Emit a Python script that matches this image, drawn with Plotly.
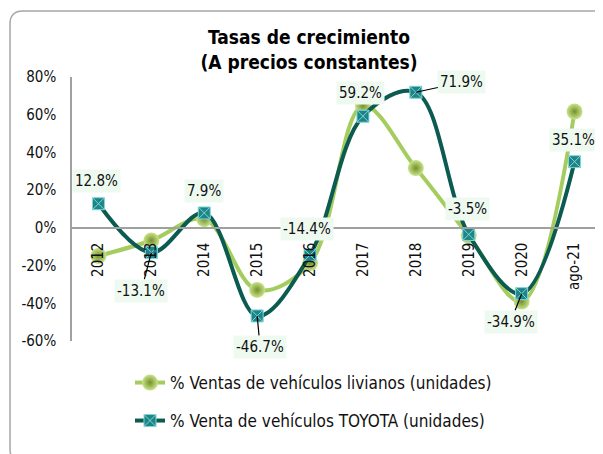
import plotly.graph_objects as go

categories = ["2012", "2013", "2014", "2015", "2016", "2017", "2018", "2019", "2020", "ago-21"]
livianos = [-14.9, -6.7, 4.6, -32.9, -18.7, 64.7, 31.7, -4.2, -39.1, 61.7]
toyota = [12.8, -13.1, 7.9, -46.7, -14.4, 59.2, 71.9, -3.5, -34.9, 35.1]
toyota_labels = ["12.8%", "-13.1%", "7.9%", "-46.7%", "-14.4%", "59.2%", "71.9%", "-3.5%", "-34.9%", "35.1%"]
y_ticks = [-60, -40, -20, 0, 20, 40, 60, 80]
y_tick_labels = ["-60%", "-40%", "-20%", "0%", "20%", "40%", "60%", "80%"]

FONT = "DejaVu Sans Condensed, DejaVu Sans, sans-serif"
# page body has an 8px margin, so the figure is sized to fit the window
W, H = 595, 446
L, R, T, B = 64, 2, 69, 113
pw, ph = W - L - R, H - T - B

# label placement (pixel offsets from point): (ax, ay, leader)
label_pos = [(-2, -23, False), (-10, 38, True), (0, -22, False), (3, 31, True), (-3, -26, False),
             (-2, -23, False), (46, -10, True), (-1, -25, False), (-11, 28, True), (-1, -22, False)]

fig = go.Figure()
fig.add_trace(go.Scatter(
    x=categories, y=livianos, mode="lines+markers",
    name="% Ventas de vehículos livianos (unidades)",
    line=dict(color="#A4CC5E", width=4, shape="spline", smoothing=1),
    marker=dict(size=16, color="#C9E58A", gradient=dict(type="radial", color="#758F2C"),
                line=dict(width=0)),
    legend="legend",
))
fig.add_trace(go.Scatter(
    x=categories, y=toyota, mode="lines+markers",
    name="% Venta de vehículos TOYOTA (unidades)",
    line=dict(color="#0B5B50", width=4, shape="spline", smoothing=1),
    marker=dict(size=12, symbol="square-x", color="#1E8486", line=dict(width=1, color="#7ED6DA")),
    legend="legend2",
))

for i, (v, txt, (ax, ay, leader)) in enumerate(zip(toyota, toyota_labels, label_pos)):
    if leader:
        fig.add_annotation(x=i, y=v, text=txt, showarrow=True, arrowhead=0, arrowwidth=1.2,
                           arrowcolor="#000000", ax=ax, ay=ay, bgcolor="#EEFAF0",
                           font=dict(family=FONT, size=15, color="#111111"), borderpad=2)
    else:
        fig.add_annotation(x=i, y=v, text=txt, showarrow=False, xshift=ax, yshift=-ay,
                           bgcolor="#EEFAF0", font=dict(family=FONT, size=15, color="#111111"),
                           borderpad=2)

# rounded border around whole chart
def px2paper(x, y):
    return (x - L) / pw, (H - B - y) / ph

x0, y0, x1, y1, r = 2, 3, 601, 454, 13
def P(x, y):
    a, b = px2paper(x, y)
    return f"{a:.5f},{b:.5f}"
path = (f"M {P(x0 + r, y0)} L {P(x1 - r, y0)} Q {P(x1, y0)} {P(x1, y0 + r)} "
        f"L {P(x1, y1 - r)} Q {P(x1, y1)} {P(x1 - r, y1)} L {P(x0 + r, y1)} "
        f"Q {P(x0, y1)} {P(x0, y1 - r)} L {P(x0, y0 + r)} Q {P(x0, y0)} {P(x0 + r, y0)} Z")
fig.add_shape(type="path", path=path, xref="paper", yref="paper",
              line=dict(color="#A6A6A6", width=1.5), layer="below")

zero_pos = (0 - (-60)) / 140.0

fig.update_layout(
    width=W, height=H,
    margin=dict(l=L, r=R, t=T, b=B),
    paper_bgcolor="white", plot_bgcolor="white",
    font=dict(family=FONT, color="#111111"),
    title=dict(text="<b>Tasas de crecimiento<br>(A precios constantes)</b>",
               x=301 / W, xanchor="center", y=1 - 36 / H, yanchor="middle",
               font=dict(family=FONT, size=19, color="#000000")),
    xaxis=dict(type="category", range=[-0.5, 9.5], anchor="free", position=zero_pos,
               showline=True, linecolor="#A0A0A0", linewidth=1.5, showgrid=False,
               zeroline=False, tickangle=-90, ticks="", ticklabelstandoff=8,
               tickfont=dict(family=FONT, size=15, color="#111111")),
    yaxis=dict(range=[-60, 80], tickvals=y_ticks, ticktext=y_tick_labels,
               showline=True, linecolor="#A0A0A0", linewidth=1.5, showgrid=False,
               zeroline=False, ticks="", ticklabelstandoff=11,
               tickfont=dict(family=FONT, size=15, color="#111111")),
    legend=dict(x=(122 - L) / pw, xanchor="left", y=(H - B - 375) / ph, yanchor="middle",
                font=dict(family=FONT, size=17, color="#111111"), bgcolor="rgba(0,0,0,0)"),
    legend2=dict(x=(122 - L) / pw, xanchor="left", y=(H - B - 413) / ph, yanchor="middle",
                 font=dict(family=FONT, size=17, color="#111111"), bgcolor="rgba(0,0,0,0)"),
    showlegend=True,
)

fig.write_html("out.html")
